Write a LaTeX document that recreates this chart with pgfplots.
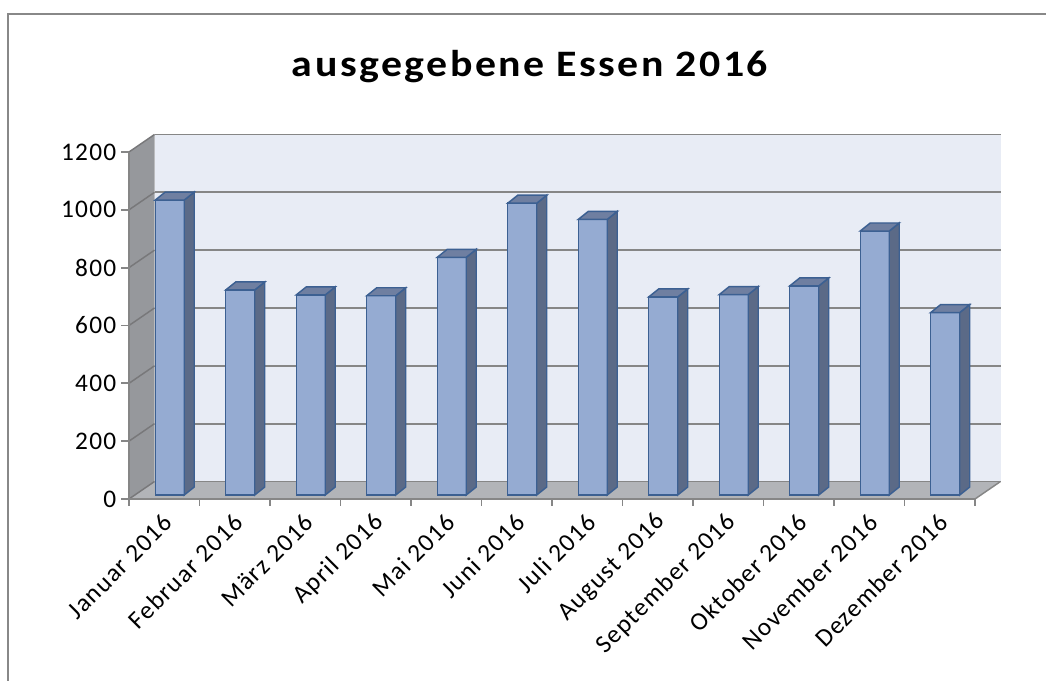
\documentclass[border=0pt]{standalone}
\usepackage{graphicx}
\usepackage{pgfplots}
\pgfplotsset{compat=1.18}
\usepackage{pgfplotstable}
\usepackage{fontspec}
\setmainfont{Carlito}
\definecolor{frontblue}{RGB}{149,171,210}
\definecolor{sideblue}{RGB}{91,106,135}
\definecolor{topblue}{RGB}{111,127,161}
\definecolor{edgeblue}{RGB}{60,96,146}
\definecolor{backwall}{RGB}{232,236,245}
\definecolor{sidewall}{RGB}{150,152,156}
\definecolor{floorgray}{RGB}{178,180,184}
\definecolor{gridgray}{RGB}{134,134,134}
\definecolor{sidegrid}{RGB}{120,120,122}
\definecolor{axisgray}{RGB}{134,134,134}
\definecolor{framegray}{RGB}{136,136,136}

\pgfplotstableread{
x y
0.5 1020
1.5 709
2.5 692
3.5 689
4.5 822
5.5 1009
6.5 953
7.5 685
8.5 693
9.5 723
10.5 913
11.5 631
}\essen

\newdimen\bh
\global\bh=0pt
\pgfdeclareplotmark{box3d}{%
  \pgfsetlinewidth{1.1pt}%
  \pgfsetstrokecolor{edgeblue}%
  \pgfsetfillcolor{sideblue}%
  \pgfpathmoveto{\pgfqpoint{15pt}{0pt}}%
  \pgfpathlineto{\pgfqpoint{22.5pt}{6pt}}%
  \pgfpathlineto{\pgfqpoint{22.5pt}{\dimexpr6pt-\bh\relax}}%
  \pgfpathlineto{\pgfqpoint{15pt}{-\bh}}%
  \pgfpathclose
  \pgfusepathqfillstroke
  \pgfsetfillcolor{topblue}%
  \pgfpathmoveto{\pgfqpoint{-6.75pt}{0pt}}%
  \pgfpathlineto{\pgfqpoint{0.75pt}{6pt}}%
  \pgfpathlineto{\pgfqpoint{22.5pt}{6pt}}%
  \pgfpathlineto{\pgfqpoint{15pt}{0pt}}%
  \pgfpathclose
  \pgfusepathqfillstroke
}

\begin{document}
\begin{tikzpicture}
\path[use as bounding box] (0,0) rectangle (784.5pt,510.75pt);
\draw[framegray, line width=1.5pt] (6pt,-5pt) -- (6pt,500.25pt) -- (790pt,500.25pt);
\node[anchor=base, inner sep=0pt] at (397.5pt,453.2pt) {\scalebox{1.12}[1]{\fontsize{28}{32}\selectfont\bfseries\addfontfeature{LetterSpace=6}ausgegebene Essen 2016}};
\begin{axis}[
  axis on top, clip=false,
  at={(96.75pt,136.5pt)}, anchor=south west,
  scale only axis, width=634.5pt, height=260.25pt,
  xmin=0, xmax=12, ymin=0, ymax=1200,
  axis x line*=bottom, axis y line*=left,
  axis line style={draw=axisgray, line width=1.4pt, -},
  tick align=outside,
  ytick={0,200,...,1200},
  xtick={0.5,1.5,...,11.5},
  xticklabels={Januar 2016,Februar 2016,März 2016,April 2016,Mai 2016,Juni 2016,Juli 2016,August 2016,September 2016,Oktober 2016,November 2016,Dezember 2016},
  minor xtick={0,1,...,12},
  major tick length=6pt, minor tick length=5.25pt,
  tick style={draw=axisgray, line width=1.4pt},
  major x tick style={draw=none},
  minor x tick style={draw=axisgray, line width=1.4pt},
  /pgf/number format/assume math mode=true,
  /pgf/number format/1000 sep={},
  yticklabel style={font=\fontsize{19}{20}\selectfont\addfontfeature{LetterSpace=5}},
  xticklabel style={font=\fontsize{19}{20}\selectfont\addfontfeature{LetterSpace=5}, inner sep=0pt, anchor=east, xshift=3pt, yshift=-8.25pt, rotate=45},
]
\fill[backwall] ([shift={(19.125pt,13.125pt)}]axis cs:0,0) rectangle ([shift={(19.125pt,13.125pt)}]axis cs:12,1200);
\fill[sidewall] (axis cs:0,0) -- ([shift={(19.125pt,13.125pt)}]axis cs:0,0) -- ([shift={(19.125pt,13.125pt)}]axis cs:0,1200) -- (axis cs:0,1200) -- cycle;
\fill[floorgray] (axis cs:0,0) -- ([shift={(19.125pt,13.125pt)}]axis cs:0,0) -- ([shift={(19.125pt,13.125pt)}]axis cs:12,0) -- (axis cs:12,0) -- cycle;
\draw[axisgray, line width=1.1pt] (axis cs:12,0) -- ([shift={(19.125pt,13.125pt)}]axis cs:12,0);
\pgfplotsinvokeforeach{0,200,...,1200}{
  \draw[gridgray, line width=1.4pt] ([shift={(19.125pt,13.125pt)}]axis cs:0,#1) -- ([shift={(19.125pt,13.125pt)}]axis cs:12,#1);
  \draw[sidegrid, line width=1.1pt] (axis cs:0,#1) -- ([shift={(19.125pt,13.125pt)}]axis cs:0,#1);
}
\addplot[ybar, bar width=21.75pt, bar shift=4.125pt, yshift=3pt, fill=frontblue, draw=edgeblue, line width=1.1pt] table[x=x,y=y]{\essen};
\addplot[scatter, only marks, mark=box3d, yshift=3pt,
  point meta=\thisrow{y}, point meta min=0, point meta max=1200,
  scatter/@pre marker code/.code={\global\bh=\dimexpr\pgfplotspointmetatransformed pt*26025/100000\relax},
  scatter/@post marker code/.code={}] table[x=x,y=y]{\essen};
\end{axis}
\end{tikzpicture}
\end{document}
